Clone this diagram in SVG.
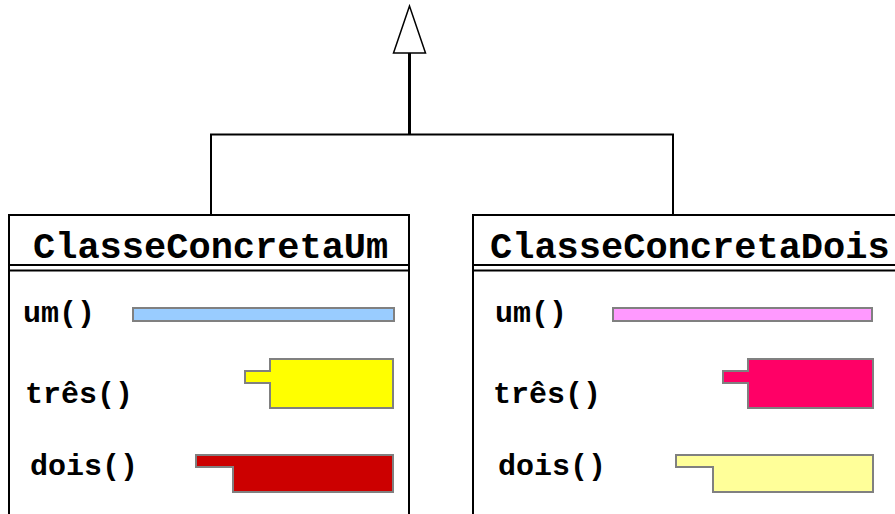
<svg xmlns="http://www.w3.org/2000/svg" width="895" height="514" viewBox="0 0 895 514">
<style>
.box{fill:#fff;stroke:#000;stroke-width:2}
.sep{stroke:#000;stroke-width:2}
.title{font-family:"Liberation Mono","Courier New",monospace;font-weight:bold;font-size:37px;fill:#000}
.meth{font-family:"Liberation Mono","Courier New",monospace;font-weight:bold;font-size:30px;fill:#000}
.bar{stroke:#808080;stroke-width:2}
.conn{fill:none;stroke:#000;stroke-width:2}
</style>
<g id="connectors">
<polygon points="409.5,6 393.5,53 425.5,53" fill="#fff" stroke="#000" stroke-width="1.5"/>
<line x1="409.5" y1="53" x2="409.5" y2="134.5" stroke="#000" stroke-width="3"/>
<polyline class="conn" points="211,215 211,134.5 673,134.5 673,215"/>
</g>
<g id="ClasseConcretaUm">
<rect class="box" x="9" y="215" width="400" height="320"/>
<line class="sep" x1="9" y1="265" x2="409" y2="265"/>
<line class="sep" x1="9" y1="270.5" x2="409" y2="270.5"/>
<text class="title" x="33" y="258">ClasseConcretaUm</text>
<text class="meth" x="23" y="322">um()</text>
<text class="meth" x="25" y="403">três()</text>
<text class="meth" x="30" y="475">dois()</text>
<rect class="bar" x="133" y="308" width="261" height="13" fill="#99CCFF"/>
<path class="bar" d="M270,359 H393 V408 H270 V383 H245 V371 H270 Z" fill="#FFFF00"/>
<path class="bar" d="M196,455 H393 V492 H233 V467 H196 Z" fill="#CC0000"/>
</g>
<g id="ClasseConcretaDois">
<rect class="box" x="473" y="215" width="440" height="320"/>
<line class="sep" x1="473" y1="265" x2="913" y2="265"/>
<line class="sep" x1="473" y1="270.5" x2="913" y2="270.5"/>
<text class="title" x="490" y="258">ClasseConcretaDois</text>
<text class="meth" x="495" y="322">um()</text>
<text class="meth" x="493" y="403">três()</text>
<text class="meth" x="498" y="475">dois()</text>
<rect class="bar" x="613" y="308" width="259" height="13" fill="#FF99FF"/>
<path class="bar" d="M748,359 H873 V408 H748 V383 H723 V371 H748 Z" fill="#FF0066"/>
<path class="bar" d="M676,455 H873 V492 H713 V467 H676 Z" fill="#FFFF99"/>
</g>
</svg>
